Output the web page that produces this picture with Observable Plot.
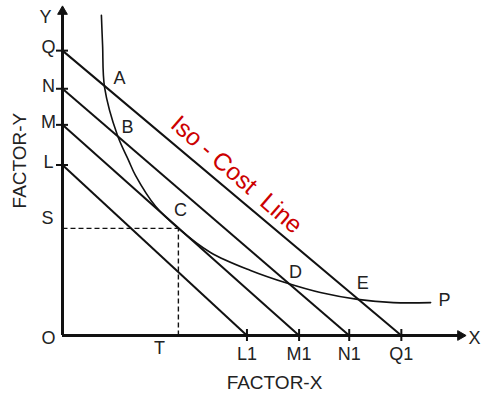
<!DOCTYPE html>
<html>
<head>
<meta charset="utf-8">
<script src="https://cdn.jsdelivr.net/npm/d3@7"></script>
<script src="https://cdn.jsdelivr.net/npm/@observablehq/plot@0.6"></script>
<style>
  html, body { margin: 0; padding: 0; background: #fff; }
  #chart svg text { white-space: pre; }
</style>
</head>
<body>
<div id="chart"></div>
<script>
// Iso-cost lines: names, Y intercepts, X intercepts
const yNames = ["Q", "N", "M", "L"];
const yIntercepts = [71, 61.5, 52.5, 42.5];
const xNames = ["Q1", "N1", "M1", "L1"];
const xIntercepts = [84.5, 71.5, 59, 46];

// Isoquant P
const curveX = [9.7, 10.0, 10.5, 13.7, 16.5, 18.2, 23.2, 28.9, 36.9, 46.9, 56.1, 64.3, 73.6, 82.5, 91.8];
const curveY = [79.8, 72.3, 61.8, 49.9, 43.6, 39.9, 32.2, 26.7, 20.7, 16.2, 13.0, 10.7, 9.0, 8.2, 8.2];

// Points on the curve
const pointNames = ["A", "B", "C", "D", "E"];
const pointX = [10.5, 13.7, 28.9, 56.1, 73.6];
const pointY = [61.8, 49.9, 26.7, 13.0, 9.0];

// Equilibrium C projections
const sValue = 26.7; // S on Y
const tValue = 28.9; // T on X

const xMax = 100, yMax = 81.5;

// layout/styles (not data)
const labelOffsets = {A: [15, -9], B: [10, -8], C: [2, -18], D: [8, -11], E: [5, -16]};
const ink = "#111";
const txt = "#222";
const fs = 18;

const isoLines = yNames.map((n, i) => ({n, y: yIntercepts[i], x: xIntercepts[i], xn: xNames[i]}));
const curve = curveX.map((x, i) => ({x, y: curveY[i]}));
const pts = pointNames.map((n, i) => ({n, x: pointX[i], y: pointY[i]}));

const pointLabelMarks = pts.map(p => Plot.text([p], {
  x: "x", y: "y", text: "n", dx: labelOffsets[p.n][0], dy: labelOffsets[p.n][1],
  fontSize: fs, fill: txt
}));

const chart = Plot.plot({
  width: 481,
  height: 393,
  marginLeft: 62,
  marginRight: 18,
  marginTop: 8,
  marginBottom: 58,
  x: {domain: [0, xMax], axis: null},
  y: {domain: [0, yMax], axis: null},
  style: {fontFamily: "'Liberation Sans', Arial, sans-serif", background: "#fff"},
  marks: [
    // dashed projections
    Plot.link([{x1: 0, y1: sValue, x2: tValue, y2: sValue}], {x1: "x1", y1: "y1", x2: "x2", y2: "y2", stroke: ink, strokeWidth: 1.4, strokeDasharray: "5,3"}),
    Plot.link([{x1: tValue, y1: 0, x2: tValue, y2: sValue}], {x1: "x1", y1: "y1", x2: "x2", y2: "y2", stroke: ink, strokeWidth: 1.4, strokeDasharray: "5,3"}),
    // iso-cost lines
    Plot.link(isoLines, {x1: 0, y1: "y", x2: "x", y2: 0, stroke: ink, strokeWidth: 2}),
    // isoquant
    Plot.line(curve, {x: "x", y: "y", curve: "catmull-rom", stroke: ink, strokeWidth: 1.6}),
    // axes
    Plot.ruleY([0], {x1: 0, x2: xMax - 1, stroke: ink, strokeWidth: 3}),
    Plot.ruleX([0], {y1: 0, y2: yMax - 1, stroke: ink, strokeWidth: 3}),
    Plot.dot([{x: xMax, y: 0}], {x: "x", y: "y", symbol: "triangle", rotate: 90, r: 3.6, dx: -3, fill: ink, stroke: ink, strokeWidth: 1}),
    Plot.dot([{x: 0, y: yMax}], {x: "x", y: "y", symbol: "triangle", rotate: 0, r: 3.6, dy: 3, fill: ink, stroke: ink, strokeWidth: 1}),
    // ticks
    Plot.ruleY(isoLines, {y: "y", x1: -1.5, x2: 1.5, stroke: ink, strokeWidth: 2}),
    Plot.ruleX(isoLines, {x: "x", y1: -1.5, y2: 1.5, stroke: ink, strokeWidth: 2}),
    // axis tick labels
    Plot.text(isoLines, {x: 0, y: "y", text: "n", dx: -14, dy: -3, fontSize: fs, fill: txt}),
    Plot.text(isoLines, {x: "x", y: 0, text: "xn", dy: 19, fontSize: fs, fill: txt}),
    Plot.text([{t: "S", y: sValue}], {x: 0, y: "y", text: "t", dx: -15, dy: -10, fontSize: fs, fill: txt}),
    Plot.text([{t: "T", x: tValue}], {x: "x", y: 0, text: "t", dx: -19, dy: 13, fontSize: fs, fill: txt}),
    Plot.text(["O"], {x: 0, y: 0, text: d => d, dx: -14, dy: 3, fontSize: fs, fill: txt}),
    Plot.text(["Y"], {x: 0, y: yMax, text: d => d, dx: -17, dy: 9, fontSize: fs, fill: txt}),
    Plot.text(["X"], {x: xMax, y: 0, text: d => d, dx: 11, dy: 3, fontSize: fs, fill: txt}),
    // axis titles
    Plot.text(["FACTOR-X"], {x: 0, y: 0, text: d => d, fontSize: 19, fill: txt, dx: 212, dy: 47, letterSpacing: 0.5}),
    Plot.text(["FACTOR-Y"], {x: 0, y: 43.6, text: d => d, rotate: -90, fontSize: 19, fill: txt, dx: -43, letterSpacing: 0.5}),
    // point labels
    ...pointLabelMarks,
    Plot.text([curve[curve.length - 1]], {x: "x", y: "y", text: () => "P", dx: 14, dy: -2, fontSize: fs, fill: txt}),
    // iso-cost annotation
    Plot.text(["Iso - Cost  Line"], {x: 43.4, y: 40.1, text: d => d, rotate: 41, fontSize: 24.5, fill: "#cc0000"})
  ]
});
document.getElementById("chart").appendChild(chart);
</script>
</body>
</html>
